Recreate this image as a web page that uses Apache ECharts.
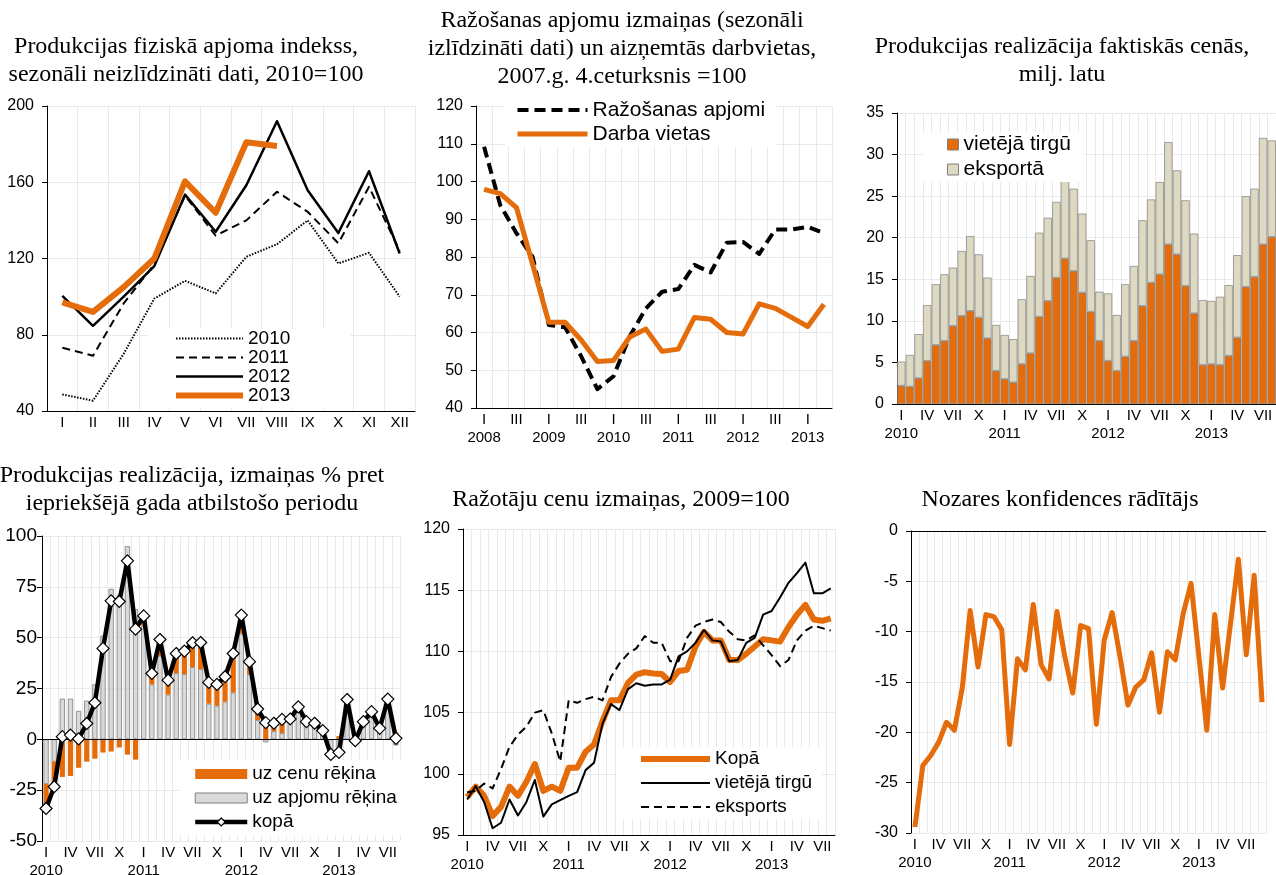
<!DOCTYPE html>
<html><head><meta charset="utf-8">
<script src="https://cdn.jsdelivr.net/npm/echarts@6.0.0/dist/echarts.min.js"></script>
<style>html,body{margin:0;padding:0;background:#fff}#c{width:1276px;height:875px}</style>
</head><body><div id="c"></div>
<script>
// ---------- labels ----------
const romanMonths = ['I','II','III','IV','V','VI','VII','VIII','IX','X','XI','XII'];
const years = ['2010','2011','2012','2013'];
const quarterYears = ['2008','2009','2010','2011','2012','2013'];
const quarterRoman = ['I','II','III','IV'];

// ---------- panel 1: production volume index, 2010=100 ----------
const p1_2010 = [48.7, 45.4, 70, 99, 108.3, 101.7, 120.9, 127.5, 140, 117.4, 123, 100];
const p1_2011 = [73.2, 69, 96.4, 117, 153, 132, 140, 155, 144.5, 128, 157.6, 124];
const p1_2012 = [100.4, 84.7, 100, 116, 153.5, 134, 158.4, 192, 155.8, 133.4, 165.8, 122.6];
const p1_2013 = [97, 92, 105, 120, 160.5, 144, 181, 179];

// ---------- panel 2: quarterly, 2007Q4=100 ----------
const p2_production = [109.2, 93.7, 86.3, 80, 62, 61.4, 53.7, 45, 48.4, 59, 66.4, 70.8, 71.5, 77.9, 75.9, 83.8, 84, 80.8, 87.3, 87.3, 88, 86.3];
const p2_jobs = [97.9, 96.8, 93.1, 78, 62.7, 62.7, 58, 52.3, 52.6, 58.8, 60.9, 55, 55.6, 64, 63.5, 60, 59.6, 67.6, 66.4, 64, 61.6, 67.5];

// ---------- panel 3: sales in actual prices, mln LVL ----------
const p3_domestic = [2.2, 2.1, 3.1, 5.2, 7.1, 7.6, 9.4, 10.6, 11.2, 10.4, 7.9, 4.0,
  3.0, 2.6, 4.8, 6.1, 10.5, 12.4, 15.2, 17.5, 16.0, 13.4, 11.1, 7.6,
  5.2, 4.0, 5.7, 7.6, 11.8, 14.6, 15.6, 19.2, 18.0, 14.2, 10.9, 4.7,
  4.8, 4.7, 5.8, 8.0, 14.1, 15.3, 19.2, 20.1];
const p3_export = [2.9, 3.8, 5.3, 6.7, 7.3, 8.0, 7.0, 7.8, 9.0, 7.6, 7.3, 5.5,
  5.3, 5.2, 7.8, 9.3, 10.1, 10.0, 9.1, 10.5, 9.9, 9.5, 8.6, 5.9,
  8.1, 6.7, 8.7, 9.0, 10.3, 10.0, 11.1, 12.3, 10.1, 10.3, 9.6, 7.8,
  7.6, 8.2, 8.5, 9.9, 10.9, 10.6, 12.8, 11.6];

// ---------- panel 4: sales change % y/y ----------
const p4_volume = [-22, -11, 20, 20, 14, 19, 27, 51, 74, 71, 95, 64,
  56, 27, 41, 22, 32.5, 32, 35.5, 34.5, 17.5, 16.5, 18.5, 23,
  52, 32, 9.5, -1.5, 4, 3, 9, 14, 8, 7.5, 4, -5,
  -8, 19, -1, 8, 13, 5, 19, -3];
const p4_price = [-11.5, -12, -18.5, -18, -14, -11, -9.5, -6.5, -6, -4, -7.5, -10,
  4.5, 5, 8, 7, 9.7, 11.4, 12, 13, 10.5, 10.5, 12, 19,
  9, 6, 5.4, 9.7, 3.9, 6.8, 1, 2, 0.7, 0.4, 0.3, -2.4,
  1.6, 0.6, 0.3, 0.7, 0.6, 0.4, 0.8, 3.5];
const p4_total = [-34, -23.3, 1.3, 2.1, 0.2, 7.8, 18, 44.7, 68.1, 67.8, 87.8, 54.2,
  60.7, 32.4, 49.1, 29.1, 42.2, 43.4, 47.5, 47.6, 28, 27, 30.8, 42.2,
  61.1, 38.2, 14.9, 8.2, 7.9, 9.8, 10, 16, 8.7, 7.9, 4.3, -7.4,
  -6.4, 19.6, -0.7, 8.7, 13.6, 5.4, 19.8, 0.5];

// ---------- panel 5: producer prices, 2009=100 ----------
const p5_total = [98.1, 98.95, 98.2, 96.55, 97.3, 98.95, 98.2, 99.35, 100.8, 98.6, 98.95, 98.6,
  100.5, 100.5, 101.8, 102.4, 104.3, 106.0, 106.0, 107.4, 108.1, 108.3, 108.2, 108.15,
  107.5, 108.4, 108.5, 110.4, 111.6, 110.9, 110.9, 109.3, 109.3, 109.8, 110.4, 111.0,
  110.9, 110.8, 112.0, 113.0, 113.8, 112.6, 112.5, 112.7];
const p5_domestic = [97.9, 99.0, 97.7, 95.55, 96.0, 97.9, 96.6, 97.7, 99.5, 96.5, 97.5, 97.85,
  98.2, 98.5, 100.3, 100.9, 104.1, 105.7, 105.2, 106.9, 107.4, 107.2, 107.3, 107.3,
  107.7, 109.6, 110.0, 110.7, 111.75, 110.9, 110.8, 109.2, 109.3, 110.7, 111.1, 113.0,
  113.3, 114.4, 115.6, 116.4, 117.25, 114.75, 114.75, 115.15];
const p5_export = [98.5, 98.6, 99.2, 98.8, 100.4, 102.2, 103.2, 103.85, 105.0, 105.2, 103.3, 101.0,
  106.0, 105.8, 106.1, 106.3, 106.0, 107.9, 109.0, 109.8, 110.25, 111.25, 110.7, 110.7,
  109.2, 109.2, 111.1, 112.1, 112.4, 112.6, 112.4, 111.6, 111.0, 110.9, 111.3, 110.5,
  109.7, 108.8, 109.3, 110.9, 111.7, 112.1, 111.9, 111.7];

// ---------- panel 6: confidence indicator ----------
const p6_confidence = [-29.4, -23.3, -22.3, -21.0, -19.0, -19.8, -15.6, -7.9, -13.5, -8.3, -8.5, -9.8,
  -21.2, -12.7, -13.8, -7.3, -13.3, -14.7, -8.0, -12.5, -16.1, -9.4, -9.7, -19.2,
  -10.8, -8.1, -12.5, -17.3, -15.5, -14.8, -12.1, -18.0, -12.0, -12.8, -8.2, -5.2,
  -12.5, -19.8, -8.3, -15.6, -9.2, -2.8, -12.3, -4.4, -17.0];

// ---------- categories ----------
const monthCats = [];
years.forEach(y => romanMonths.forEach(m => monthCats.push(m + ' ' + y)));
const cats44 = monthCats.slice(0, 44);
const cats45 = monthCats.slice(0, 45);
const quarterCats = [];
quarterYears.forEach(y => quarterRoman.forEach(q => quarterCats.push(q + ' ' + y)));
const p2Cats = quarterCats.slice(0, 22);

// ---------- styling ----------
const SANS = '"Liberation Sans", Arial, sans-serif';
const SERIF = '"Liberation Serif", "Times New Roman", serif';
const ORANGE = '#E46C0A';
const GRIDC = '#E9E9E9';

const monthFmt = (v, i) => i % 3 === 0 ? (romanMonths[i % 12] + (i % 12 === 0 ? '\n' + years[i / 12] : '')) : '';
const quarterFmt = (v, i) => i % 4 === 0 ? ('I\n' + quarterYears[i / 4]) : (i % 4 === 2 ? 'III' : '');

function ttl(text, cx, top) {
  return {text, left: cx, top, padding: 0, textAlign: 'center',
    textStyle: {fontFamily: SERIF, fontSize: 24, fontWeight: 'normal', lineHeight: 28, color: '#000'}};
}
function yAx(gi, min, max, interval, fs, margin) {
  return {type: 'value', gridIndex: gi, min, max, interval,
    axisLine: {show: true, lineStyle: {color: '#000', width: 1}},
    axisTick: {show: true, length: 5, lineStyle: {color: '#000'}},
    axisLabel: {color: '#000', fontFamily: SANS, fontSize: fs, margin: margin},
    splitLine: {show: true, lineStyle: {color: GRIDC, width: 1}}};
}
function xAx(gi, data, fmt, lineShow) {
  return {type: 'category', gridIndex: gi, data, boundaryGap: true,
    axisLine: {show: lineShow, onZero: false, lineStyle: {color: '#000', width: 1}},
    axisTick: {show: false},
    axisLabel: {interval: 0, hideOverlap: false, color: '#000', fontFamily: SANS, fontSize: 15, margin: 3, lineHeight: 18, formatter: fmt},
    splitLine: {show: true, interval: 0, lineStyle: {color: GRIDC, width: 1}}};
}
function lineS(name, xi, data, color, width, type, extra) {
  return Object.assign({type: 'line', name, xAxisIndex: xi, yAxisIndex: xi, data,
    symbol: 'none', showSymbol: false, silent: true,
    lineStyle: {color, width, type: type || 'solid', cap: 'butt', join: 'round'},
    itemStyle: {color}}, extra || {});
}
const legText = {fontFamily: SANS, color: '#000'};
const stripName = n => n.split('|')[1];
const zeroLine = {silent: true, symbol: 'none', label: {show: false}, lineStyle: {color: '#000', width: 1, type: 'solid'}, emphasis: {disabled: true}, data: [{yAxis: 0}]};

const option = {
  animation: false,
  backgroundColor: '#fff',
  title: [
    ttl('Produkcijas fiziskā apjoma indekss,\nsezonāli neizlīdzināti dati, 2010=100', 186, 33),
    ttl('Ražošanas apjomu izmaiņas (sezonāli\nizlīdzināti dati) un aizņemtās darbvietas,\n2007.g. 4.ceturksnis =100', 622, 7),
    ttl('Produkcijas realizācija faktiskās cenās,\nmilj. latu', 1062, 33),
    ttl('Produkcijas realizācija, izmaiņas % pret\niepriekšējā gada atbilstošo periodu', 192, 462),
    ttl('Ražotāju cenu izmaiņas, 2009=100', 621, 486),
    ttl('Nozares konfidences rādītājs', 1060, 486)
  ],
  grid: [
    {left: 47, top: 106, width: 368, height: 305},
    {left: 476, top: 106, width: 356, height: 302},
    {left: 897, top: 113, width: 379, height: 291},
    {left: 42, top: 536, width: 358, height: 305},
    {left: 463, top: 529, width: 372, height: 306},
    {left: 911, top: 531, width: 355, height: 302}
  ].map(g => Object.assign(g, {outerBoundsMode: 'none', containLabel: false})),
  xAxis: [
    xAx(0, romanMonths, null, true),
    xAx(1, p2Cats, quarterFmt, true),
    xAx(2, cats44, monthFmt, true),
    xAx(3, cats44, monthFmt, false),
    xAx(4, cats44, monthFmt, true),
    xAx(5, cats45, monthFmt, false)
  ],
  yAxis: [
    yAx(0, 40, 200, 40, 16, 13),
    yAx(1, 40, 120, 10, 16, 13),
    yAx(2, 0, 35, 5, 16, 13),
    yAx(3, -50, 100, 25, 19, 5),
    yAx(4, 95, 120, 5, 16, 13),
    yAx(5, -30, 0, 5, 16, 13)
  ],
  legend: [
    {orient: 'vertical', left: 148, top: 329, padding: [0, 60, 2, 25], itemGap: 0, itemWidth: 67, itemHeight: 12,
      backgroundColor: '#fff', selectedMode: false, formatter: stripName,
      textStyle: Object.assign({fontSize: 19, lineHeight: 18.5}, legText),
      data: [
        {name: '1|2010', itemStyle: {opacity: 0}, lineStyle: {width: 2, type: [1.5, 1.5], color: '#000'}},
        {name: '1|2011', itemStyle: {opacity: 0}, lineStyle: {width: 2, type: [8, 5], color: '#000'}},
        {name: '1|2012', itemStyle: {opacity: 0}, lineStyle: {width: 2.5, type: 'solid', color: '#000'}},
        {name: '1|2013', itemStyle: {opacity: 0}, lineStyle: {width: 6, type: 'solid', color: ORANGE}}
      ]},
    {orient: 'vertical', left: 505, top: 97, padding: [1, 10, 1, 10], itemGap: 0, itemWidth: 70, itemHeight: 12,
      backgroundColor: '#fff', selectedMode: false, formatter: stripName,
      textStyle: Object.assign({fontSize: 21, lineHeight: 24}, legText),
      data: [
        {name: '2|Ražošanas apjomi', itemStyle: {opacity: 0}, lineStyle: {width: 4, type: [11, 6], color: '#000'}},
        {name: '2|Darba vietas', itemStyle: {opacity: 0}, lineStyle: {width: 5, type: 'solid', color: ORANGE}}
      ]},
    {orient: 'vertical', left: 923, top: 132, padding: [0, 12, 0, 24], itemGap: 0, itemWidth: 11, itemHeight: 11,
      backgroundColor: '#fff', selectedMode: false, formatter: stripName, icon: 'rect',
      textStyle: Object.assign({fontSize: 21, lineHeight: 25}, legText),
      data: [
        {name: '3|vietējā tirgū', itemStyle: {borderWidth: 1, borderColor: '#7F7F7F'}},
        {name: '3|eksportā', itemStyle: {borderWidth: 1, borderColor: '#7F7F7F'}}
      ]},
    {orient: 'vertical', left: 180, top: 760, padding: [2, 8, 2, 13], itemGap: 0, itemWidth: 52, itemHeight: 10,
      backgroundColor: '#fff', selectedMode: false, formatter: stripName,
      textStyle: Object.assign({fontSize: 19, lineHeight: 24}, legText),
      data: [
        {name: '4|uz cenu rēķina', icon: 'rect', itemStyle: {borderWidth: 0}},
        {name: '4|uz apjomu rēķina', icon: 'rect', itemStyle: {borderWidth: 1, borderColor: '#7F7F7F'}},
        {name: '4|kopā', lineStyle: {width: 4.5, type: 'solid', color: '#000'}, itemStyle: {borderWidth: 1.2, borderColor: '#000', color: '#fff'}}
      ]},
    {orient: 'vertical', left: 617, top: 747, padding: [0, 10, 0, 21], itemGap: 0, itemWidth: 69, itemHeight: 12,
      backgroundColor: '#fff', selectedMode: false, formatter: stripName,
      textStyle: Object.assign({fontSize: 19, lineHeight: 24}, legText),
      data: [
        {name: '5|Kopā', itemStyle: {opacity: 0}, lineStyle: {width: 6, type: 'solid', color: ORANGE}},
        {name: '5|vietējā tirgū', itemStyle: {opacity: 0}, lineStyle: {width: 2, type: 'solid', color: '#000'}},
        {name: '5|eksports', itemStyle: {opacity: 0}, lineStyle: {width: 2, type: [8, 5], color: '#000'}}
      ]}
  ],
  series: [
    // panel 1
    lineS('1|2010', 0, p1_2010, '#000', 2, [1.5, 1.5]),
    lineS('1|2011', 0, p1_2011, '#000', 2, [8, 5]),
    lineS('1|2012', 0, p1_2012, '#000', 2.5),
    lineS('1|2013', 0, p1_2013, ORANGE, 6),
    // panel 2
    lineS('2|Ražošanas apjomi', 1, p2_production, '#000', 4, [11, 6]),
    lineS('2|Darba vietas', 1, p2_jobs, ORANGE, 5),
    // panel 3
    {type: 'bar', name: '3|vietējā tirgū', xAxisIndex: 2, yAxisIndex: 2, data: p3_domestic, stack: 'p3', silent: true,
      barCategoryGap: '4%', itemStyle: {color: ORANGE, borderColor: '#7F7F7F', borderWidth: 0.7}},
    {type: 'bar', name: '3|eksportā', xAxisIndex: 2, yAxisIndex: 2, data: p3_export, stack: 'p3', silent: true,
      barCategoryGap: '4%', itemStyle: {color: '#DDD9C3', borderColor: '#7F7F7F', borderWidth: 0.7}},
    // panel 4
    {type: 'bar', name: '4|uz apjomu rēķina', xAxisIndex: 3, yAxisIndex: 3, data: p4_volume, stack: 'p4', silent: true,
      barCategoryGap: '36%', itemStyle: {color: '#D9D9D9', borderColor: '#7F7F7F', borderWidth: 0.8},
      markLine: zeroLine},
    {type: 'bar', name: '4|uz cenu rēķina', xAxisIndex: 3, yAxisIndex: 3, data: p4_price, stack: 'p4', silent: true,
      barCategoryGap: '36%', itemStyle: {color: ORANGE}},
    {type: 'line', name: '4|kopā', xAxisIndex: 3, yAxisIndex: 3, data: p4_total, silent: true,
      symbol: 'diamond', symbolSize: 12, showSymbol: true,
      lineStyle: {color: '#000', width: 4.5, join: 'round'},
      itemStyle: {color: '#fff', borderColor: '#000', borderWidth: 1.2}, z: 5},
    // panel 5
    lineS('5|Kopā', 4, p5_total, ORANGE, 6),
    lineS('5|vietējā tirgū', 4, p5_domestic, '#000', 2),
    lineS('5|eksports', 4, p5_export, '#000', 2, [8, 5]),
    // panel 6
    lineS('6|Nozares konfidences rādītājs', 5, p6_confidence, ORANGE, 5, 'solid', {markLine: zeroLine})
  ]
};

const chart = echarts.init(document.getElementById('c'), null, {renderer: 'canvas', width: 1276, height: 875});
chart.setOption(option);
</script>
</body></html>
